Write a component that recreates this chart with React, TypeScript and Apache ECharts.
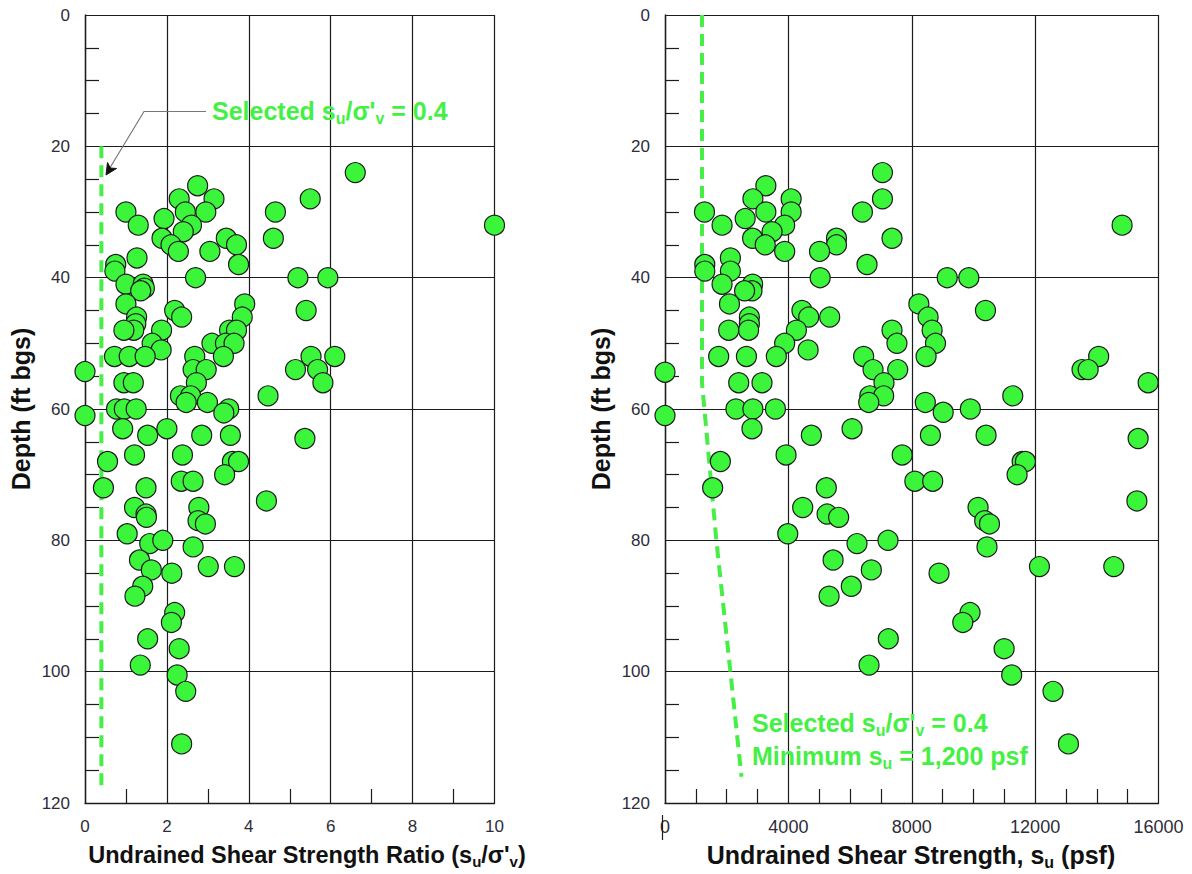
import React, { useEffect, useRef } from "react";
import * as echarts from "echarts";

// Undrained shear strength ratio (su/σ'v) vs. depth (ft bgs)
const ratioDepthPoints: [number, number][] = [
  [6.6, 24], [10, 32], [2.75, 26], [2.3, 28], [3.15, 28], [5.5, 28], [1.0, 30], [2.45, 30],
  [2.95, 30], [4.65, 30], [1.3, 32], [1.93, 31], [2.6, 32], [2.4, 33], [1.88, 34], [2.1, 35],
  [2.28, 36], [4.6, 34], [3.45, 34], [3.7, 35], [3.05, 36], [3.75, 38], [1.27, 37], [0.75, 38],
  [0.73, 39], [1.0, 41], [1.42, 41], [1.45, 41.6], [1.36, 42], [2.7, 40], [5.2, 40], [5.93, 40],
  [1.0, 44], [3.9, 44], [3.84, 46], [5.4, 45], [2.19, 45], [2.36, 46], [1.26, 46], [1.24, 47],
  [1.19, 48], [0.95, 48], [1.87, 48], [3.53, 48], [3.7, 48], [1.64, 50], [1.86, 51], [3.1, 50],
  [3.43, 50], [3.64, 50], [3.38, 52], [0.72, 52], [1.08, 52], [1.47, 52], [2.68, 52], [2.64, 54],
  [2.96, 54], [2.72, 56], [5.52, 52], [6.1, 52], [5.14, 54], [5.68, 54], [5.81, 56], [0.0, 54.3],
  [0.95, 56], [1.18, 56], [4.47, 58], [2.33, 58], [2.58, 58], [2.47, 59], [2.99, 59], [3.51, 60],
  [3.39, 60.6], [0.77, 60], [0.96, 60], [1.25, 60], [0.0, 61], [0.92, 63], [1.53, 64], [2.0, 63],
  [2.85, 64], [3.55, 64], [5.37, 64.5], [0.55, 68], [1.21, 67], [2.38, 67], [3.6, 68], [3.75, 68],
  [3.41, 70], [2.35, 71], [2.64, 71], [0.45, 72], [1.49, 72], [4.43, 74], [1.21, 75], [1.49, 76],
  [1.5, 76.5], [2.78, 75], [2.76, 77], [2.94, 77.5], [1.03, 79], [1.58, 80.5], [1.9, 80],
  [2.64, 81], [1.33, 83], [1.62, 84.5], [2.12, 85], [3.01, 84], [3.65, 84], [1.41, 87],
  [1.22, 88.5], [2.19, 91], [2.11, 92.5], [1.53, 95], [2.3, 96.5], [1.35, 99], [2.25, 100.5],
  [2.46, 103], [2.36, 111],
];

// Undrained shear strength su (psf) vs. depth (ft bgs)
const strengthDepthPoints: [number, number][] = [
  [7050, 24], [7050, 28], [3270, 26], [2850, 28], [4090, 28], [4090, 30], [3270, 30], [1280, 30],
  [6400, 30], [2600, 31], [1850, 32], [3880, 32], [14820, 32], [3470, 33], [2840, 34], [3250, 35],
  [3880, 36], [7360, 34], [5560, 34], [5560, 35], [5010, 36], [6550, 38], [2120, 37], [1290, 38],
  [1290, 39], [2120, 39], [1850, 41], [2840, 41], [2820, 42], [2580, 42], [5030, 40], [9150, 40],
  [9850, 40], [2090, 44], [8230, 44], [10390, 45], [4440, 45], [4660, 46], [5340, 46], [8530, 46],
  [2735, 46], [2735, 47], [2710, 48], [2065, 48], [4260, 48], [7360, 48], [8660, 48], [7520, 50],
  [8770, 50], [3880, 50], [4640, 51], [1740, 52], [2640, 52], [3610, 52], [6440, 52], [8465, 52],
  [14060, 52], [0, 54.4], [13520, 54], [13720, 54], [6745, 54], [7545, 54], [15665, 56], [2390, 56],
  [3145, 56], [7100, 56], [6640, 58], [7090, 58], [11275, 58], [6605, 59], [8440, 59], [2300, 60],
  [2850, 60], [3580, 60], [9020, 60.5], [9900, 60], [0, 61], [2820, 63], [1795, 68], [1545, 72],
  [3925, 67], [4745, 64], [6065, 63], [7690, 67], [8605, 64], [10410, 64], [15340, 64.5],
  [8100, 71], [8680, 71], [11580, 68], [11685, 68], [11415, 70], [15300, 74], [5230, 72],
  [4465, 75], [5255, 76], [5630, 76.5], [10150, 75], [10365, 77], [10520, 77.5], [3980, 79],
  [6225, 80.5], [7230, 80], [10440, 81], [5450, 83], [6690, 84.5], [12140, 84], [14550, 84],
  [8885, 85], [6040, 87], [5320, 88.5], [9890, 91], [9655, 92.5], [7240, 95], [10995, 96.5],
  [6615, 99], [11240, 100.5], [12580, 103], [13080, 111],
];

// Design lines: su/σ'v = 0.4, and su = max(1,200 psf, 0.4 σ'v)
const selectedRatioLine: [number, number][] = [[0.4, 20], [0.4, 117.5]];
const selectedStrengthLine: [number, number][] = [
  [1200, 0], [1200, 56], [1665, 80], [2120, 100], [2480, 116],
];

const depthTicks = { min: 0, max: 120, interval: 20 };
const ratioTicks = { min: 0, max: 10, interval: 2 };
const strengthTicks = { min: 0, max: 16000, interval: 4000 };

const FONT = '"Liberation Sans", Arial, Helvetica, sans-serif';
const MARKER_GREEN = "#3bf53b";
const LINE_GREEN = "#47ee47";
const TEXT_GREEN = "#45f045";
const INK = "#1c1c1c";
const LABEL_INK = "#2d2d3a";

function axisStyle(minorSplit: number, labelSize: number) {
  return {
    axisLine: { show: true, onZero: false, lineStyle: { color: INK, width: 1.4 } },
    axisTick: { show: false, inside: true },
    minorTick: { show: true, splitNumber: minorSplit, length: 14, lineStyle: { color: INK, width: 1.2 } },
    splitLine: { show: true, lineStyle: { color: INK, width: 1.2 } },
    axisLabel: {
      color: LABEL_INK,
      fontSize: labelSize,
      fontFamily: FONT,
      margin: 15,
      formatter: (v: number) => String(v),
    },
  };
}

function depthAxis(gridIndex: number) {
  return {
    type: "value" as const,
    gridIndex,
    inverse: true,
    ...depthTicks,
    name: "Depth (ft bgs)",
    nameLocation: "middle" as const,
    nameGap: 52,
    nameTextStyle: { fontSize: 25, fontWeight: "bold" as const, fontFamily: FONT, color: "#111" },
    ...axisStyle(4, 17),
  };
}

function richText(text: string, x: number, y: number, size: number, fill: string, align: "left" | "center") {
  return {
    type: "text" as const,
    x,
    y,
    z: 10,
    style: {
      text,
      fill,
      fontSize: size,
      fontWeight: "bold",
      fontFamily: FONT,
      align,
      verticalAlign: "middle",
      lineHeight: Math.round(size * 1.2),
      rich: {
        sub: {
          fontSize: Math.round(size * 0.65),
          fontWeight: "bold",
          fontFamily: FONT,
          verticalAlign: "bottom",
          fill,
        },
      },
    },
  };
}

export default function App() {
  const ref = useRef<HTMLDivElement>(null);

  useEffect(() => {
    if (!ref.current) return;
    const chart = echarts.init(ref.current, undefined, { renderer: "svg" });

    const option = {
      animation: false,
      backgroundColor: "#ffffff",
      grid: [
        { left: 85, top: 15, width: 409.5, height: 788, show: false },
        { left: 665, top: 15, width: 493.5, height: 788, show: false },
      ],
      xAxis: [
        { type: "value", gridIndex: 0, ...ratioTicks, ...axisStyle(2, 17) },
        { type: "value", gridIndex: 1, ...strengthTicks, ...axisStyle(4, 18) },
      ],
      yAxis: [depthAxis(0), depthAxis(1)],
      series: [
        {
          type: "line",
          xAxisIndex: 0,
          yAxisIndex: 0,
          data: selectedRatioLine,
          symbol: "none",
          lineStyle: { color: LINE_GREEN, width: 4, type: [12, 7] },
          z: 3,
        },
        {
          type: "scatter",
          xAxisIndex: 0,
          yAxisIndex: 0,
          data: ratioDepthPoints,
          symbolSize: 20,
          clip: false,
          itemStyle: { color: MARKER_GREEN, borderColor: INK, borderWidth: 1.2, opacity: 1 },
          z: 4,
        },
        {
          type: "line",
          xAxisIndex: 1,
          yAxisIndex: 1,
          data: selectedStrengthLine,
          symbol: "none",
          lineStyle: { color: LINE_GREEN, width: 4, type: [12, 7] },
          z: 3,
        },
        {
          type: "scatter",
          xAxisIndex: 1,
          yAxisIndex: 1,
          data: strengthDepthPoints,
          symbolSize: 20,
          clip: false,
          itemStyle: { color: MARKER_GREEN, borderColor: INK, borderWidth: 1.2, opacity: 1 },
          z: 4,
        },
      ],
      graphic: [
        richText("Undrained Shear Strength Ratio (s{sub|u}/σ'{sub|v})", 307, 855, 23.5, "#111", "center"),
        richText("Undrained Shear Strength, s{sub|u} (psf)", 911, 855, 25, "#111", "center"),
        // small stroke through the "0" label of the right chart
        {
          type: "line",
          z: 10,
          shape: { x1: 662.5, y1: 815, x2: 662.5, y2: 840 },
          style: { stroke: INK, lineWidth: 1.2 },
        },
        richText("Selected s{sub|u}/σ'{sub|v} = 0.4", 212, 111, 25, TEXT_GREEN, "left"),
        richText("Selected s{sub|u}/σ'{sub|v} = 0.4", 752, 723, 25, TEXT_GREEN, "left"),
        richText("Minimum s{sub|u} = 1,200 psf", 752, 756, 25, TEXT_GREEN, "left"),
        // leader pointing to the 0.4 ratio line
        {
          type: "polyline",
          z: 10,
          shape: { points: [[206, 111.5], [144, 111.5], [108, 171]] },
          style: { stroke: "#777", lineWidth: 1.2, fill: "none" },
        },
        {
          type: "polygon",
          z: 11,
          shape: { points: [[116.5, 168.5], [106, 175], [107.5, 162.5], [110.3, 168]] },
          style: { fill: "#111", stroke: "#111", lineWidth: 1 },
        },
      ],
    };

    chart.setOption(option as any);
    return () => chart.dispose();
  }, []);

  return (
    <div
      ref={ref}
      style={{ position: "fixed", left: 0, top: 0, width: 1192, height: 874, background: "#fff" }}
    />
  );
}
